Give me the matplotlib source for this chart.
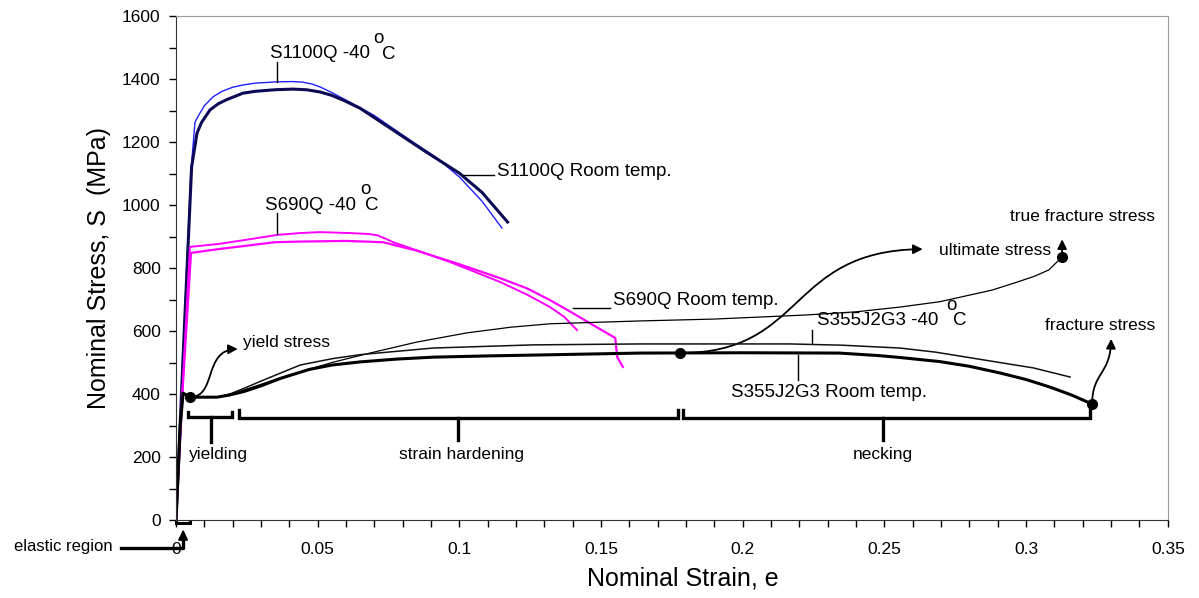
import matplotlib
matplotlib.use('Agg')
import matplotlib.pyplot as plt
import numpy as np
from matplotlib.path import Path
from matplotlib.patches import FancyArrowPatch

plt.rcParams['font.family'] = ['Liberation Sans', 'DejaVu Sans']

# S1100Q
s1100_cold_x = [0, 0.0025, 0.0052, 0.0067, 0.008, 0.010, 0.013, 0.016, 0.020, 0.0236, 0.028, 0.0356, 0.041, 0.0448,
                0.048, 0.0508, 0.055, 0.060, 0.065, 0.070, 0.0826, 0.092, 0.100, 0.108, 0.115]
s1100_cold_y = [0, 530, 1100, 1263, 1285, 1315, 1343, 1360, 1374, 1381, 1387, 1391, 1392, 1390,
                1384, 1375, 1357, 1333, 1309, 1284, 1206, 1150, 1089, 1012, 927]
s1100_room_x = [0, 0.0025, 0.0055, 0.0074, 0.009, 0.012, 0.015, 0.018, 0.0236, 0.028, 0.035, 0.0413, 0.046, 0.0508,
                0.055, 0.059, 0.065, 0.0766, 0.088, 0.100, 0.108, 0.117]
s1100_room_y = [0, 520, 1120, 1228, 1262, 1302, 1322, 1335, 1355, 1361, 1366, 1368, 1366, 1359,
                1348, 1333, 1307, 1238, 1170, 1101, 1040, 946]

# S690Q
s690_cold_x = [0, 0.0025, 0.0049, 0.0155, 0.025, 0.0356, 0.0438, 0.0508, 0.0614, 0.068, 0.071, 0.074, 0.0766,
               0.085, 0.0967, 0.1143, 0.124, 0.132, 0.137, 0.1415]
s690_cold_y = [0, 450, 867, 877, 890, 905, 911, 914, 911, 908, 904, 893, 882,
               856, 819, 756, 715, 676, 645, 603]
s690_room_x = [0, 0.0025, 0.0053, 0.015, 0.035, 0.0438, 0.06, 0.073, 0.085, 0.1, 0.1143, 0.124, 0.132, 0.14,
               0.146, 0.155, 0.1557, 0.1567, 0.1577]
s690_room_y = [0, 440, 848, 860, 882, 884, 886, 882, 855, 812, 768, 735, 698, 657,
               625, 578, 517, 502, 486]

# S355J2G3
s355_room_x = [0, 0.0015, 0.0025, 0.0049, 0.0145, 0.019, 0.024, 0.0297, 0.037, 0.047, 0.055, 0.065, 0.078, 0.0907,
               0.11, 0.1284, 0.1637, 0.2, 0.234, 0.248, 0.2554, 0.2695, 0.28, 0.2907, 0.3, 0.3084, 0.316, 0.3233]
s355_room_y = [0, 300, 403, 390, 390, 397, 408, 425, 450, 478, 492, 502, 511, 517,
               521, 524, 530, 531, 530, 522, 516, 503, 488, 467, 446, 422, 397, 368]
s355_cold_x = [0, 0.0015, 0.0025, 0.0049, 0.0145, 0.019, 0.024, 0.0297, 0.0438, 0.055, 0.065, 0.0907, 0.126, 0.1637,
               0.2167, 0.235, 0.2554, 0.268, 0.279, 0.29, 0.3025, 0.3155]
s355_cold_y = [0, 300, 403, 392, 390, 400, 418, 440, 492, 512, 525, 546, 556, 559,
               559, 555, 546, 533, 517, 501, 483, 454]
s355_true_x = [0, 0.0015, 0.0025, 0.0049, 0.0145, 0.019, 0.0297, 0.037, 0.0438, 0.055, 0.0684, 0.085, 0.1026, 0.118,
               0.132, 0.1637, 0.19, 0.2226, 0.24, 0.2554, 0.2695, 0.279, 0.288, 0.2967, 0.303, 0.308, 0.3127]
s355_true_y = [0, 300, 403, 390, 390, 398, 430, 452, 470, 500, 530, 565, 594, 612,
               623, 632, 638, 651, 661, 676, 693, 712, 730, 755, 774, 794, 835]

fig = plt.figure(figsize=(11.99, 5.98), dpi=100)
ax = fig.add_axes([0.1468, 0.1304, 0.8272, 0.8428])

ax.plot(s1100_cold_x, s1100_cold_y, color='#2020ff', lw=1.0)
ax.plot(s1100_room_x, s1100_room_y, color='#0b0b55', lw=2.2)
ax.plot(s690_cold_x, s690_cold_y, color='#ff00ff', lw=1.4)
ax.plot(s690_room_x, s690_room_y, color='#ff00ff', lw=1.6)
ax.plot(s355_true_x, s355_true_y, color='k', lw=0.9)
ax.plot(s355_cold_x, s355_cold_y, color='#111111', lw=1.1)
ax.plot(s355_room_x, s355_room_y, color='k', lw=2.2)

ax.set_xlim(0, 0.35)
ax.set_ylim(0, 1600)
ax.set_xticks(np.arange(0, 0.351, 0.05))
ax.set_xticklabels(['0', '0.05', '0.1', '0.15', '0.2', '0.25', '0.3', '0.35'])
ax.set_xticks(np.arange(0, 0.351, 0.01), minor=True)
ax.set_yticks(np.arange(0, 1601, 200))
ax.set_yticks(np.arange(0, 1601, 100), minor=True)
ax.tick_params(which='both', direction='out', length=5, width=1, labelsize=12.5, colors='k')
ax.tick_params(axis='y', which='major', pad=6)
ax.tick_params(axis='x', which='major', pad=11)
for s in ['top', 'right']:
    ax.spines[s].set_color('#999999')
for s in ['left', 'bottom']:
    ax.spines[s].set_color('#333333')

ax.set_xlabel('Nominal Strain, e', fontsize=18)
ax.set_ylabel('Nominal Stress, S  (MPa)', fontsize=18)
ax.xaxis.set_label_coords(0.511, -0.093)
ax.yaxis.set_label_coords(-0.066, 0.5)

fs_lab = 13.5
fs_ann = 12.5

# curve labels
def temp_label(x, y, name, ox, oy, cx, cy):
    ax.text(x, y, name, fontsize=fs_lab, va='center', ha='left')
    ax.text(ox, oy, 'o', fontsize=fs_lab, va='center', ha='center')
    ax.text(cx, cy, 'C', fontsize=fs_lab, va='center', ha='center')

temp_label(0.0332, 1482, 'S1100Q -40', 0.0714, 1530, 0.0752, 1479)
ax.plot([0.0356, 0.0356], [1454, 1392], color='k', lw=1)
ax.text(0.1133, 1105, 'S1100Q Room temp.', fontsize=fs_lab, va='center')
ax.plot([0.1013, 0.1122], [1095, 1095], color='k', lw=1)

temp_label(0.0314, 1000, 'S690Q -40', 0.0668, 1048, 0.0692, 1000)
ax.plot([0.0356, 0.0356], [975, 907], color='k', lw=1)
ax.text(0.1542, 698, 'S690Q Room temp.', fontsize=fs_lab, va='center')
ax.plot([0.1401, 0.1531], [673, 673], color='k', lw=1)

temp_label(0.2262, 632, 'S355J2G3 -40', 0.2736, 680, 0.2764, 632)
ax.plot([0.2244, 0.2244], [603, 562], color='k', lw=1)
ax.text(0.1958, 406, 'S355J2G3 Room temp.', fontsize=fs_lab, va='center')
ax.plot([0.2194, 0.2194], [524, 444], color='k', lw=1)

# key points
ax.plot([0.0049, 0.1778, 0.3127, 0.3233], [390, 530, 835, 368], 'o', color='k', ms=7, clip_on=False)

def curved_arrow(pts):
    path = Path(pts, [Path.MOVETO, Path.CURVE4, Path.CURVE4, Path.CURVE4])
    ar = FancyArrowPatch(path=path, arrowstyle='-|>', mutation_scale=14, lw=1.3, color='k', clip_on=False)
    ax.add_patch(ar)

curved_arrow([(0.0049, 390), (0.0145, 390), (0.0095, 540), (0.0218, 543)])
ax.text(0.0236, 562, 'yield stress', fontsize=fs_ann, va='center')

curved_arrow([(0.1778, 530), (0.2226, 530), (0.2155, 855), (0.2635, 860)])
ax.text(0.2694, 857, 'ultimate stress', fontsize=fs_ann, va='center')

ax.annotate('', xy=(0.3127, 900), xytext=(0.3127, 835),
            arrowprops=dict(arrowstyle='-|>', color='k', lw=1.3, mutation_scale=14), annotation_clip=False)
ax.text(0.2943, 965, 'true fracture stress', fontsize=fs_ann, va='center')

curved_arrow([(0.3233, 368), (0.3233, 470), (0.3297, 460), (0.3300, 575)])
ax.text(0.3066, 616, 'fracture stress', fontsize=fs_ann, va='center')

# region brackets
def bracket(x0, x1, xm, y, ytop, ybot):
    ax.plot([x0, x0, x1, x1], [ytop, y, y, ytop], color='k', lw=2.4, clip_on=False, solid_joinstyle='miter')
    ax.plot([xm, xm], [y, ybot], color='k', lw=2.4, clip_on=False)

bracket(0.0042, 0.0198, 0.0123, 327, 343, 248)
ax.text(0.0148, 208, 'yielding', fontsize=fs_ann, ha='center', va='center')
bracket(0.0222, 0.1771, 0.0995, 324, 349, 254)
ax.text(0.1006, 208, 'strain hardening', fontsize=fs_ann, ha='center', va='center')
bracket(0.1789, 0.3225, 0.2494, 324, 349, 254)
ax.text(0.2494, 208, 'necking', fontsize=fs_ann, ha='center', va='center')

# elastic region marker
ax.plot([0.0, 0.0, 0.0049, 0.0049], [-3, -10, -10, -3], color='k', lw=2.2, clip_on=False, solid_joinstyle='miter')
ax.plot([-0.0194, 0.0025, 0.0025], [-89, -89, -45], color='k', lw=2.4, clip_on=False)
ax.annotate('', xy=(0.0025, -22), xytext=(0.0025, -50),
            arrowprops=dict(arrowstyle='-|>', color='k', lw=1.5, mutation_scale=14), annotation_clip=False)
ax.text(-0.0222, -85, 'elastic region', fontsize=12, ha='right', va='center')

fig.savefig('out.png', dpi=100)
